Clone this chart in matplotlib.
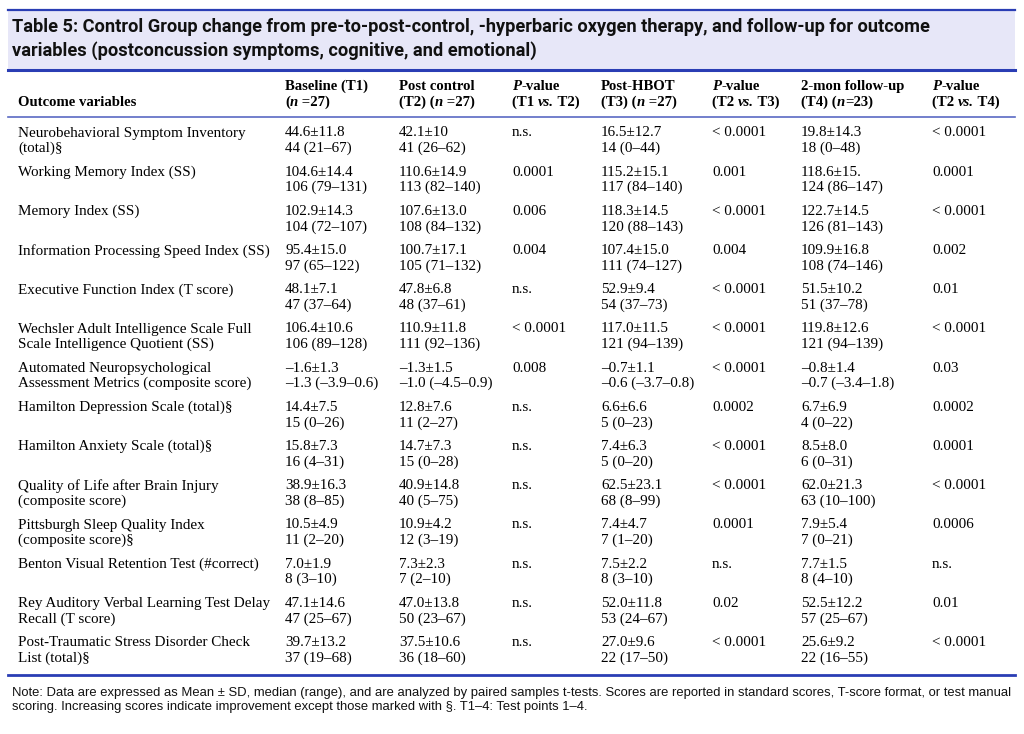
import matplotlib
matplotlib.use("Agg")
import matplotlib.pyplot as plt
from matplotlib.patches import Rectangle

# ---- data ----
outcomes = [
    "Neurobehavioral Symptom Inventory\n(total)§",
    "Working Memory Index (SS)",
    "Memory Index (SS)",
    "Information Processing Speed Index (SS)",
    "Executive Function Index (T score)",
    "Wechsler Adult Intelligence Scale Full\nScale Intelligence Quotient (SS)",
    "Automated Neuropsychological\nAssessment Metrics (composite score)",
    "Hamilton Depression Scale (total)§",
    "Hamilton Anxiety Scale (total)§",
    "Quality of Life after Brain Injury\n(composite score)",
    "Pittsburgh Sleep Quality Index\n(composite score)§",
    "Benton Visual Retention Test (#correct)",
    "Rey Auditory Verbal Learning Test Delay\nRecall (T score)",
    "Post-Traumatic Stress Disorder Check\nList (total)§",
]
t1_mean = ["44.6±11.8", "104.6±14.4", "102.9±14.3", "95.4±15.0", "48.1±7.1", "106.4±10.6", "–1.6±1.3",
           "14.4±7.5", "15.8±7.3", "38.9±16.3", "10.5±4.9", "7.0±1.9", "47.1±14.6", "39.7±13.2"]
t1_med = ["44 (21–67)", "106 (79–131)", "104 (72–107)", "97 (65–122)", "47 (37–64)", "106 (89–128)",
          "–1.3 (–3.9–0.6)", "15 (0–26)", "16 (4–31)", "38 (8–85)", "11 (2–20)", "8 (3–10)",
          "47 (25–67)", "37 (19–68)"]
t2_mean = ["42.1±10", "110.6±14.9", "107.6±13.0", "100.7±17.1", "47.8±6.8", "110.9±11.8", "–1.3±1.5",
           "12.8±7.6", "14.7±7.3", "40.9±14.8", "10.9±4.2", "7.3±2.3", "47.0±13.8", "37.5±10.6"]
t2_med = ["41 (26–62)", "113 (82–140)", "108 (84–132)", "105 (71–132)", "48 (37–61)", "111 (92–136)",
          "–1.0 (–4.5–0.9)", "11 (2–27)", "15 (0–28)", "40 (5–75)", "12 (3–19)", "7 (2–10)",
          "50 (23–67)", "36 (18–60)"]
p12 = ["n.s.", "0.0001", "0.006", "0.004", "n.s.", "< 0.0001", "0.008",
       "n.s.", "n.s.", "n.s.", "n.s.", "n.s.", "n.s.", "n.s."]
t3_mean = ["16.5±12.7", "115.2±15.1", "118.3±14.5", "107.4±15.0", "52.9±9.4", "117.0±11.5", "–0.7±1.1",
           "6.6±6.6", "7.4±6.3", "62.5±23.1", "7.4±4.7", "7.5±2.2", "52.0±11.8", "27.0±9.6"]
t3_med = ["14 (0–44)", "117 (84–140)", "120 (88–143)", "111 (74–127)", "54 (37–73)", "121 (94–139)",
          "–0.6 (–3.7–0.8)", "5 (0–23)", "5 (0–20)", "68 (8–99)", "7 (1–20)", "8 (3–10)",
          "53 (24–67)", "22 (17–50)"]
p23 = ["< 0.0001", "0.001", "< 0.0001", "0.004", "< 0.0001", "< 0.0001", "< 0.0001",
       "0.0002", "< 0.0001", "< 0.0001", "0.0001", "n.s.", "0.02", "< 0.0001"]
t4_mean = ["19.8±14.3", "118.6±15.", "122.7±14.5", "109.9±16.8", "51.5±10.2", "119.8±12.6", "–0.8±1.4",
           "6.7±6.9", "8.5±8.0", "62.0±21.3", "7.9±5.4", "7.7±1.5", "52.5±12.2", "25.6±9.2"]
t4_med = ["18 (0–48)", "124 (86–147)", "126 (81–143)", "108 (74–146)", "51 (37–78)", "121 (94–139)",
          "–0.7 (–3.4–1.8)", "4 (0–22)", "6 (0–31)", "63 (10–100)", "7 (0–21)", "8 (4–10)",
          "57 (25–67)", "22 (16–55)"]
p24 = ["< 0.0001", "0.0001", "< 0.0001", "0.002", "0.01", "< 0.0001", "0.03",
       "0.0002", "0.0001", "< 0.0001", "0.0006", "n.s.", "0.01", "< 0.0001"]

title_lines = ["Table 5: Control Group change from pre-to-post-control, -hyperbaric oxygen therapy, and follow-up for outcome",
               "variables (postconcussion symptoms, cognitive, and emotional)"]
note = ("Note: Data are expressed as Mean ± SD, median (range), and are analyzed by paired samples t-tests. "
        "Scores are reported in standard scores, T-score format, or test manual\n"
        "scoring. Increasing scores indicate improvement except those marked with §. T1–4: Test points 1–4.")

# header pieces: (text, italic?)
B, BI = False, True
headers = [
    [[("Baseline (T1)", B)], [("(", B), ("n", BI), (" =27)", B)]],
    [[("Post control", B)], [("(T2) (", B), ("n", BI), (" =27)", B)]],
    [[("P", BI), ("-value", B)], [("(T1 ", B), ("vs.", BI), (" T2)", B)]],
    [[("Post-HBOT", B)], [("(T3) (", B), ("n", BI), (" =27)", B)]],
    [[("P", BI), ("-value", B)], [("(T2 ", B), ("vs.", BI), (" T3)", B)]],
    [[("2-mon follow-up", B)], [("(T4) (", B), ("n", BI), ("=23)", B)]],
    [[("P", BI), ("-value", B)], [("(T2 ", B), ("vs.", BI), (" T4)", B)]],
]

W, H = 1024, 734
fig = plt.figure(figsize=(W / 100, H / 100), dpi=100)
ax = fig.add_axes([0, 0, 1, 1])
ax.set_xlim(0, W)
ax.set_ylim(H, 0)
ax.axis("off")
renderer = fig.canvas.get_renderer()

serif = "Liberation Serif"
blue = "#2a3db4"
fs = 10.9
hfs = 10.6

# title band
ax.add_patch(Rectangle((8, 10), 1007, 60, facecolor="#e7e7f8", edgecolor="none"))
ax.plot([8, 1015], [10, 10], color=blue, lw=1.6)
ax.plot([8, 1015], [70, 70], color=blue, lw=2.2)
tfont = ["Roboto", "DejaVu Sans"]
probe = ax.text(12, 0, title_lines[0], family=tfont, weight="bold", fontsize=12)
tw = probe.get_window_extent(renderer).width
probe.remove()
tfs = 12 * 916 / tw
for k, line in enumerate(title_lines):
    ax.text(12, 27 + k * 24, line, family=tfont, weight="bold", fontsize=tfs,
            va="center", ha="left", color="#111111")


def seg_width(s, style):
    kw = dict(family=serif, fontsize=hfs, weight="bold", style="italic" if style else "normal")
    t1 = ax.text(0, 0, s + "x", **kw)
    t2 = ax.text(0, 0, "x", **kw)
    w = t1.get_window_extent(renderer).width - t2.get_window_extent(renderer).width
    t1.remove()
    t2.remove()
    return w


def rich(x, y, segs):
    for s, style in segs:
        ax.text(x, y, s, family=serif, fontsize=hfs, weight="bold",
                style="italic" if style else "normal", va="baseline", ha="left")
        x += seg_width(s, style)


col_x = [285, 399, 512, 601, 712, 801, 932]
ax.text(18, 106, "Outcome variables", family=serif, fontsize=hfs, weight="bold", va="baseline")
for cx, (l1, l2) in zip(col_x, headers):
    rich(cx, 90, l1)
    rich(cx, 106, l2)
ax.plot([8, 1015], [117, 117], color="#5a6ac4", lw=1.2)

# body
row_y0, row_dy, line_dy = 133, 39.2, 15.5
columns = [(t1_mean, t1_med), (t2_mean, t2_med), (p12, None), (t3_mean, t3_med),
           (p23, None), (t4_mean, t4_med), (p24, None)]
for i, name in enumerate(outcomes):
    y = row_y0 + i * row_dy
    for j, line in enumerate(name.split("\n")):
        ax.text(18, y + j * line_dy, line, family=serif, fontsize=fs, va="center", ha="left")
    for cx, (top, bottom) in zip(col_x, columns):
        ax.text(cx, y, top[i], family=serif, fontsize=fs, va="center", ha="left")
        if bottom is not None:
            ax.text(cx, y + line_dy, bottom[i], family=serif, fontsize=fs, va="center", ha="left")

ax.plot([8, 1015], [675, 675], color=blue, lw=2.0)
ax.text(12, 700, note, family=["Liberation Sans", "DejaVu Sans"], fontsize=9.4,
        va="center", ha="left", linespacing=1.25, color="#111111")

fig.savefig("out.png", dpi=100, facecolor="white")
